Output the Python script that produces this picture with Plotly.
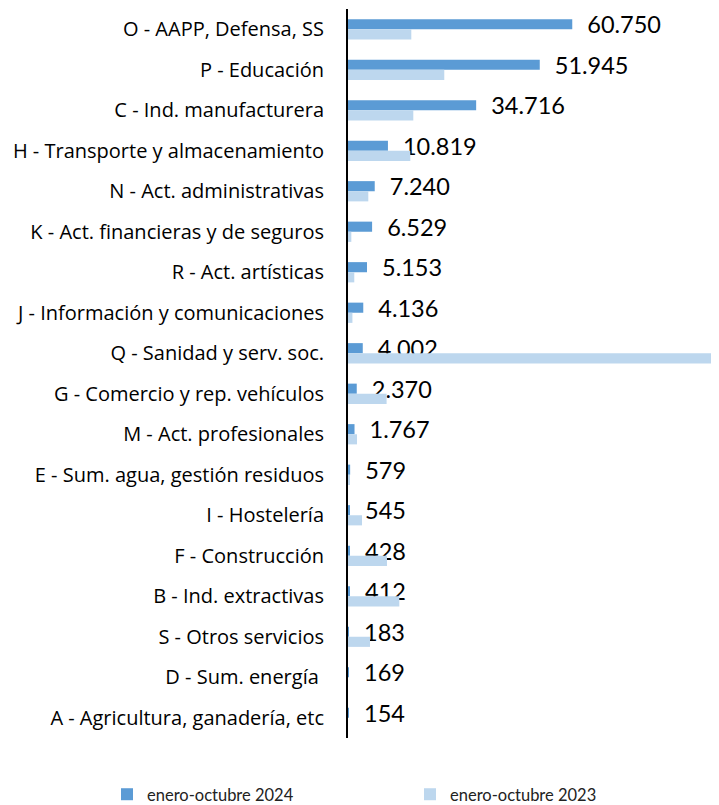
import plotly.graph_objects as go

categories = [
    "O - AAPP, Defensa, SS",
    "P - Educación",
    "C - Ind. manufacturera",
    "H - Transporte y almacenamiento",
    "N - Act. administrativas",
    "K - Act. financieras y de seguros",
    "R - Act. artísticas",
    "J - Información y comunicaciones",
    "Q - Sanidad y serv. soc.",
    "G - Comercio y rep. vehículos",
    "M - Act. profesionales",
    "E - Sum. agua, gestión residuos",
    "I - Hostelería",
    "F - Construcción",
    "B - Ind. extractivas",
    "S - Otros servicios",
    "D - Sum. energía ",
    "A - Agricultura, ganadería, etc",
]
values_2024 = [60750, 51945, 34716, 10819, 7240, 6529, 5153, 4136, 4002,
               2370, 1767, 579, 545, 428, 412, 183, 169, 154]
values_2023 = [17150, 26080, 17690, 16880, 5500, 900, 1700, 1200, 105000,
               10460, 2440, 300, 3790, 10560, 13900, 5960, 0, 0]
series_names = ["enero-octubre 2024", "enero-octubre 2023"]
x_range = [0, 100500]

def fmt(v):
    return "\u00a0\u00a0" + f"{v:,}".replace(",", ".")

W, H = 711, 797
L, T, B = 340, 1, 67
plot_w = W - L
plot_h = H - T - B

fig = go.Figure()
fig.add_trace(go.Bar(
    y=categories, x=values_2024, orientation="h", name=series_names[0],
    marker=dict(color="#5B9BD5", line=dict(width=0)),
    text=[fmt(v) for v in values_2024], textposition="outside",
    constraintext="none", cliponaxis=False,
    outsidetextfont=dict(family="Lato", size=23.5, color="#000000"),
    hoverinfo="skip", legend="legend",
))
fig.add_trace(go.Bar(
    y=categories, x=values_2023, orientation="h", name=series_names[1],
    marker=dict(color="#BDD7EE", line=dict(width=0)),
    hoverinfo="skip", legend="legend2",
))
leg_font = dict(size=16.5, family="Lato", color="#222222")
leg_top_px = 769
leg_y = -(leg_top_px - (T + plot_h)) / plot_h
fig.update_layout(
    width=W, height=H,
    barmode="group", bargap=0.5, bargroupgap=0,
    plot_bgcolor="white", paper_bgcolor="white",
    margin=dict(l=L, r=0, t=T, b=B, autoexpand=False),
    font=dict(family="Lato", color="#000000"),
    showlegend=True,
    legend=dict(orientation="h", x=(99 - L) / plot_w, xanchor="left",
                y=leg_y, yanchor="top", font=leg_font),
    legend2=dict(orientation="h", x=(402 - L) / plot_w, xanchor="left",
                 y=leg_y, yanchor="top", font=leg_font),
    xaxis=dict(range=x_range, showgrid=False, zeroline=False, showline=False,
               showticklabels=False, ticks=""),
    yaxis=dict(autorange="reversed", showline=True, linecolor="#000000", linewidth=2,
               ticks="", showgrid=False,
               tickfont=dict(size=20, family="Open Sans", color="#000000"),
               ticklabelstandoff=18),
)
fig.write_html("out.html")
